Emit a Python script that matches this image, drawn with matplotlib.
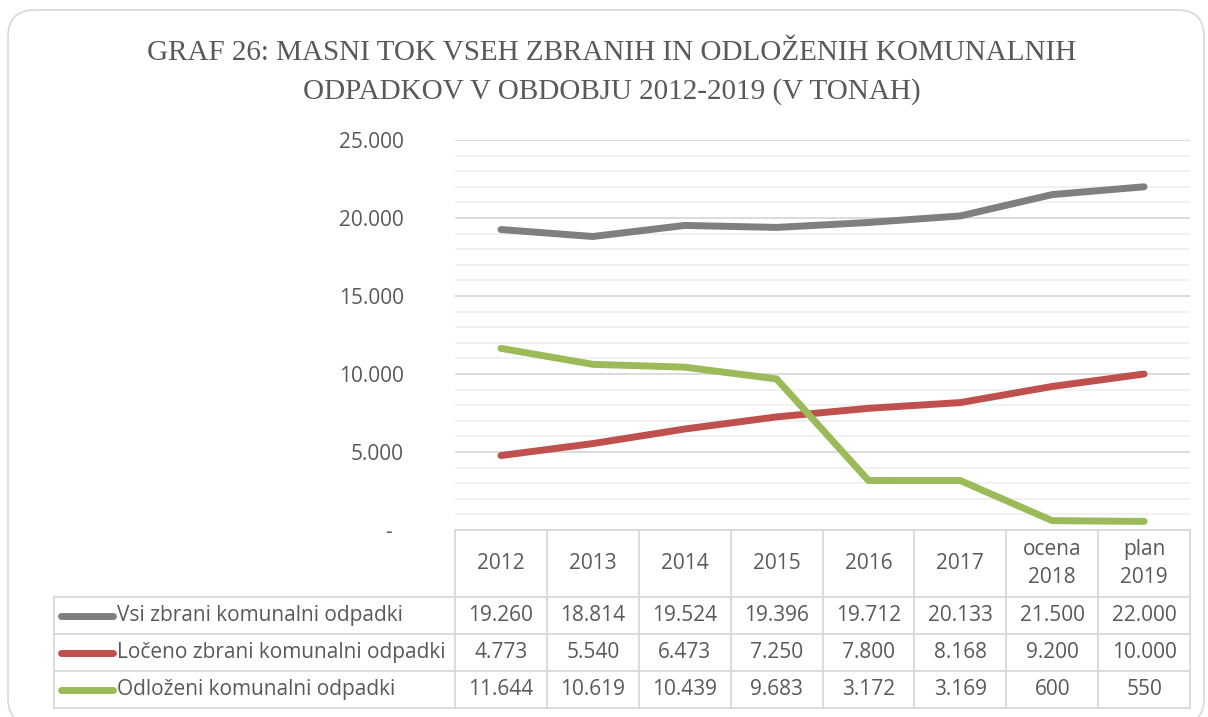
import matplotlib
matplotlib.use("Agg")
import matplotlib.pyplot as plt
from matplotlib.patches import FancyBboxPatch
from matplotlib.ticker import MultipleLocator, FuncFormatter

plt.rcParams['font.family'] = ['Open Sans', 'DejaVu Sans']

kategorije = ['2012', '2013', '2014', '2015', '2016', '2017', 'ocena\n2018', 'plan\n2019']
vsi_zbrani = [19260, 18814, 19524, 19396, 19712, 20133, 21500, 22000]
loceno_zbrani = [4773, 5540, 6473, 7250, 7800, 8168, 9200, 10000]
odlozeni = [11644, 10619, 10439, 9683, 3172, 3169, 600, 550]

serije = [
    ('Vsi zbrani komunalni odpadki', vsi_zbrani, '#7f7f7f'),
    ('Ločeno zbrani komunalni odpadki', loceno_zbrani, '#c0504d'),
    ('Odloženi komunalni odpadki', odlozeni, '#9bbb59'),
]

W, H = 1208, 717
txt = '#595959'
rob = '#d9d9d9'
fs = 15


def fmt(v):
    return f"{v:,}".replace(',', '.')


fig = plt.figure(figsize=(W / 100, H / 100), dpi=100)

# okvir grafa (spodnji rob sega cez sliko)
okvir = FancyBboxPatch((8 / W, -8 / H), 1196 / W, (717 - 10 + 8) / H,
                       boxstyle="round,pad=0,rounding_size=0.022",
                       transform=fig.transFigure, fc='none', ec=rob, lw=1.2,
                       mutation_aspect=W / H, zorder=-1)
fig.patches.append(okvir)

fig.text(612 / W, 1 - 53 / H, 'GRAF 26: MASNI TOK VSEH ZBRANIH IN ODLOŽENIH KOMUNALNIH',
         ha='center', va='center', fontsize=21, color=txt, family='Liberation Serif')
fig.text(612 / W, 1 - 92 / H, 'ODPADKOV V OBDOBJU 2012-2019 (V TONAH)',
         ha='center', va='center', fontsize=21, color=txt, family='Liberation Serif')

x0, x1 = 455, 1190
ytop, ybot = 140, 530
ax = fig.add_axes([x0 / W, 1 - ybot / H, (x1 - x0) / W, (ybot - ytop) / H])
x = list(range(len(kategorije)))
for ime, vals, barva in serije:
    ax.plot(x, vals, color=barva, lw=5, solid_capstyle='round', solid_joinstyle='round', zorder=3)

ax.set_xlim(-0.5, len(kategorije) - 0.5)
ax.set_ylim(0, 25000)
ax.yaxis.set_major_locator(MultipleLocator(5000))
ax.yaxis.set_minor_locator(MultipleLocator(1000))
ax.yaxis.set_major_formatter(FuncFormatter(lambda v, p: '-  ' if v == 0 else fmt(int(v))))
ax.grid(axis='y', which='major', color='#d9d9d9', lw=1.3)
ax.grid(axis='y', which='minor', color='#f0f0f0', lw=1.3)
ax.set_axisbelow(True)
ax.tick_params(axis='y', which='both', length=0, pad=37, labelsize=fs, labelcolor=txt)
ax.set_xticks([])
for s in ax.spines.values():
    s.set_visible(False)

# tabela s podatki pod grafom
tbot = 708
tab = fig.add_axes([x0 / W, 1 - tbot / H, (x1 - x0) / W, (tbot - ybot) / H])
tab.set_xlim(-0.5, len(kategorije) - 0.5)
tab.set_ylim(tbot - ybot, 0)
tab.axis('off')
glava = 67
vrsta = (tbot - ybot - glava) / 3
dx = 1 / ((x1 - x0) / len(kategorije))
lx = -0.5 - (x0 - 54) * dx
kw = dict(color=rob, lw=1.3, clip_on=False)

tab.plot([-0.5, len(kategorije) - 0.5], [0, 0], **kw)
for i in range(len(kategorije) + 1):
    tab.plot([i - 0.5, i - 0.5], [0, tbot - ybot], **kw)
for r in range(4):
    y = glava + r * vrsta
    tab.plot([lx, len(kategorije) - 0.5], [y, y], **kw)
tab.plot([lx, lx], [glava, tbot - ybot], **kw)

for i, k in enumerate(kategorije):
    tab.text(i, glava / 2, k, ha='center', va='center', fontsize=fs, color=txt,
             linespacing=1.45)

for r, (ime, vals, barva) in enumerate(serije):
    yc = glava + (r + 0.5) * vrsta
    tab.plot([lx + 7 * dx, lx + 59 * dx], [yc, yc], color=barva, lw=5,
             solid_capstyle='round', clip_on=False)
    tab.text(lx + 63 * dx, yc, ime, ha='left', va='center', fontsize=fs, color=txt)
    for i, v in enumerate(vals):
        tab.text(i, yc, fmt(v), ha='center', va='center', fontsize=fs, color=txt)

fig.savefig('out.png', dpi=100)
